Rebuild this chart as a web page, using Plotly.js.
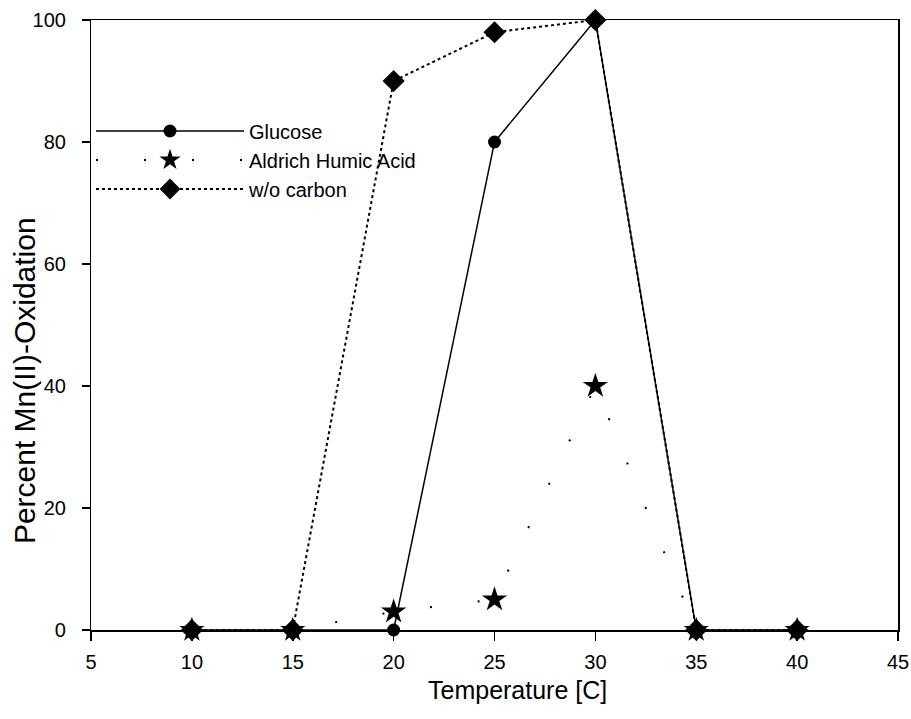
<!DOCTYPE html>
<html><head><meta charset="utf-8">
<script src="https://cdn.plot.ly/plotly-3.0.1.min.js"></script>
<style>html,body{margin:0;padding:0;background:#fff}</style>
</head><body><div id="chart" style="width:911px;height:719px"></div>
<script>
const temperature = [10, 15, 20, 25, 30, 35, 40];
const glucose = [0, 0, 0, 80, 100, 0, 0];
const humicAcid = [0, 0, 3, 5, 40, 0, 0];
const noCarbon = [0, 0, 90, 98, 100, 0, 0];
const xTicks = [5, 10, 15, 20, 25, 30, 35, 40, 45];
const yTicks = [0, 20, 40, 60, 80, 100];
const xTitle = 'Temperature [C]';
const yTitle = 'Percent Mn(II)-Oxidation';

const FONT = 'Arial, "Liberation Sans", sans-serif';
const traces = [
  {x: temperature, y: glucose, name: 'Glucose', mode: 'lines+markers', cliponaxis: false,
   line: {color: '#000', width: 1.5},
   marker: {symbol: 'circle', size: 13, color: '#000'}},
  {x: temperature, y: humicAcid, name: 'Aldrich Humic Acid', mode: 'lines+markers', cliponaxis: false,
   line: {color: '#000', width: 2, dash: '2px,46px'},
   marker: {symbol: 'star', size: 19, color: '#000'}},
  {x: temperature, y: noCarbon, name: 'w/o carbon', mode: 'lines+markers', cliponaxis: false,
   line: {color: '#000', width: 2, dash: 'dot'},
   marker: {symbol: 'diamond', size: 17, color: '#000'}}
];

const tickFont = {family: FONT, size: 20, color: '#000'};
const layout = {
  width: 911, height: 719,
  margin: {l: 91, r: 13, t: 20, b: 89},
  paper_bgcolor: '#fff', plot_bgcolor: '#fff',
  font: tickFont,
  showlegend: true,
  legend: {x: 0.0, y: 0.85, xanchor: 'left', yanchor: 'top',
    font: {family: FONT, size: 20, color: '#000'},
    bgcolor: 'rgba(0,0,0,0)', itemwidth: 148, tracegroupgap: 0},
  xaxis: {range: [5, 45], tickvals: xTicks, ticktext: xTicks.map(String),
    showgrid: false, zeroline: false, showline: true, linecolor: '#000', linewidth: 1.5,
    mirror: true, ticks: 'outside', ticklen: 9, tickwidth: 1.5, tickcolor: '#000',
    tickfont: tickFont, ticklabelstandoff: 4},
  yaxis: {range: [0, 100], tickvals: yTicks, ticktext: yTicks.map(v => v + '\u00a0'),
    showgrid: false, zeroline: false, showline: true, linecolor: '#000', linewidth: 1.5,
    mirror: true, ticks: 'outside', ticklen: 8, tickwidth: 1.5, tickcolor: '#000',
    tickfont: tickFont, ticklabelstandoff: 6},
  annotations: [
    {text: xTitle, xref: 'paper', yref: 'paper', x: 0.528, y: 0, yshift: -60,
     xanchor: 'center', yanchor: 'middle', showarrow: false,
     font: {family: FONT, size: 25, color: '#000'}},
    {text: yTitle, xref: 'paper', yref: 'paper', x: 0, xshift: -67, y: 0.408,
     xanchor: 'center', yanchor: 'middle', textangle: -90, showarrow: false,
     font: {family: FONT, size: 30, color: '#000'}}
  ]
};
Plotly.newPlot('chart', traces, layout, {displayModeBar: false, staticPlot: true});
</script></body></html>
